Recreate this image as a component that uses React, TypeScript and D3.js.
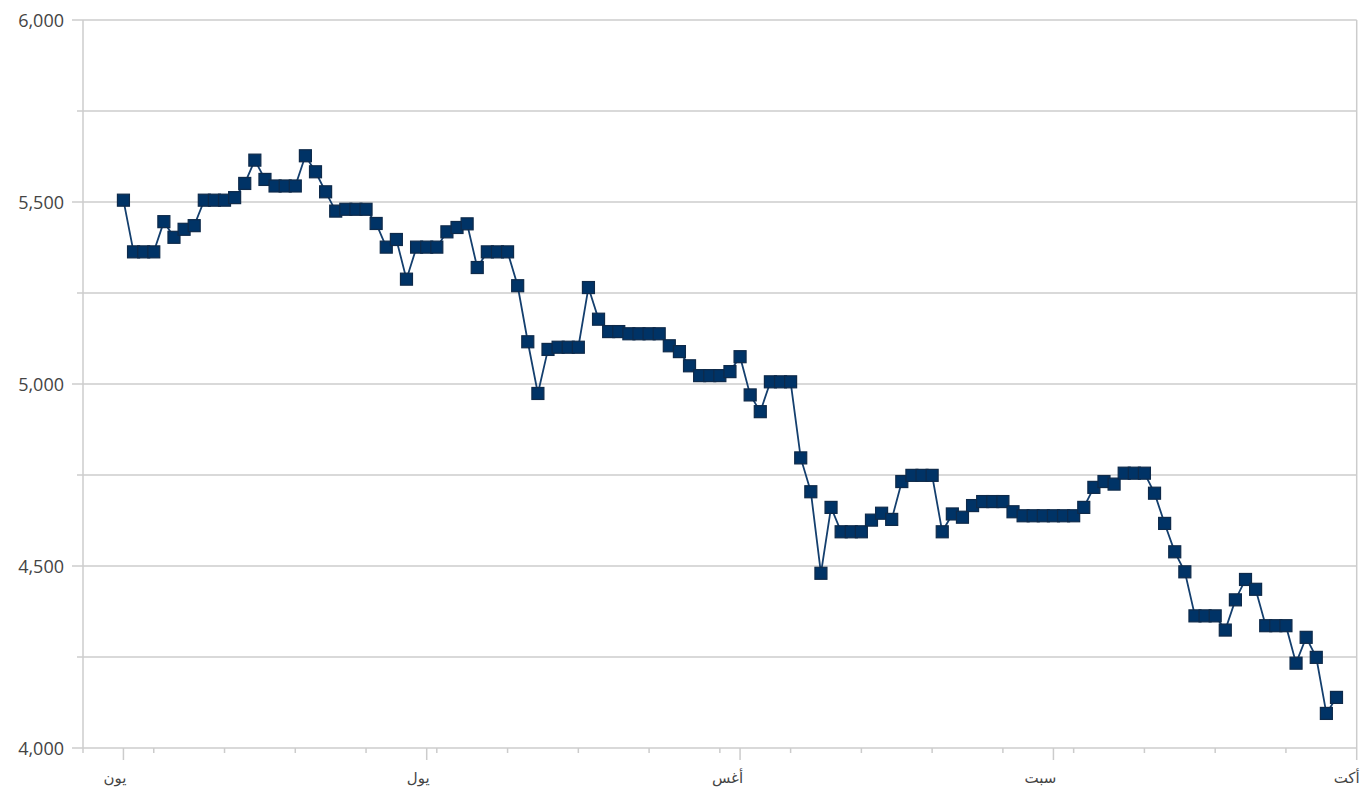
import React from "react";
import * as d3 from "d3";

const START_DATE = "2017-06-01";
const DOMAIN_START = "2017-05-28";
const DOMAIN_END = "2017-10-01";

const juneValues = [
  5505, 5363, 5363, 5363, 5446, 5403, 5425, 5435, 5505, 5505,
  5505, 5512, 5551, 5615, 5562, 5544, 5544, 5544, 5627, 5583,
  5528, 5475, 5480, 5480, 5480, 5441, 5376, 5397, 5288, 5376,
];
const julyValues = [
  5376, 5376, 5418, 5430, 5440, 5320, 5363, 5363, 5363, 5270,
  5116, 4974, 5095, 5101, 5101, 5101, 5265, 5178, 5144, 5144,
  5138, 5138, 5138, 5138, 5105, 5089, 5050, 5023, 5023, 5023,
  5034,
];
const augustValues = [
  5075, 4970, 4924, 5006, 5006, 5006, 4797, 4704, 4480, 4661,
  4594, 4594, 4594, 4626, 4645, 4628, 4732, 4749, 4749, 4749,
  4594, 4643, 4634, 4666, 4677, 4677, 4677, 4649, 4638, 4638,
  4638,
];
const septemberValues = [
  4638, 4638, 4638, 4661, 4716, 4732, 4725, 4755, 4755, 4755,
  4700, 4617, 4539, 4484, 4363, 4363, 4363, 4324, 4407, 4463,
  4436, 4336, 4336, 4336, 4233, 4304, 4249, 4095, 4139,
];

const monthLabels = ["يون", "يول", "أغس", "سبت", "أكت"];
const yMajorTicks = [4000, 4500, 5000, 5500, 6000];
const yMinorTicks = [4250, 4750, 5250, 5750];
const Y_MIN = 4000;
const Y_MAX = 6000;

const W = 1365;
const H = 791;
const LEFT = 83;
const RIGHT = 1356.7;
const TOP = 20;
const BOTTOM = 748;

const GRID = "#cccccc";
const TEXT = "#444444";
const LINE = "#143f6e";
const MARK_FILL = "#003366";
const MARK_STROKE = "#0e2a4a";

export default function App() {
  const start = new Date(START_DATE + "T00:00:00Z");
  const allValues = [...juneValues, ...julyValues, ...augustValues, ...septemberValues];
  const data = allValues.map((v, i) => ({ date: d3.utcDay.offset(start, i), value: v }));

  const x = d3
    .scaleUtc()
    .domain([new Date(DOMAIN_START + "T00:00:00Z"), new Date(DOMAIN_END + "T00:00:00Z")])
    .range([LEFT, RIGHT]);
  const y = d3.scaleLinear().domain([Y_MIN, Y_MAX]).range([BOTTOM, TOP]);

  const monthTicks = d3.utcMonth.range(start, d3.utcDay.offset(x.domain()[1], 1));
  const weekTicks = d3.utcSunday.range(start, x.domain()[1]);

  const line = d3
    .line<{ date: Date; value: number }>()
    .x((d) => x(d.date))
    .y((d) => y(d.value));

  const fmt = d3.format(",");
  const ms = 12;
  const font = "'Open Sans', 'DejaVu Sans', sans-serif";

  return (
    <svg
      width={W}
      height={H}
      style={{ position: "absolute", left: 0, top: 0, display: "block", background: "#fff" }}
    >
      {/* horizontal gridlines */}
      {[...yMajorTicks, ...yMinorTicks].map((t) => (
        <line key={"g" + t} x1={LEFT} x2={RIGHT} y1={y(t)} y2={y(t)} stroke={GRID} strokeWidth={1.5} />
      ))}
      {/* y ticks */}
      {yMajorTicks.map((t) => (
        <line key={"ymt" + t} x1={LEFT - 11} x2={LEFT} y1={y(t)} y2={y(t)} stroke={GRID} strokeWidth={1.5} />
      ))}
      {yMinorTicks.map((t) => (
        <line key={"ymn" + t} x1={LEFT - 6} x2={LEFT} y1={y(t)} y2={y(t)} stroke={GRID} strokeWidth={1.5} />
      ))}
      {/* axis borders */}
      <line x1={LEFT} x2={LEFT} y1={TOP} y2={BOTTOM + 5} stroke={GRID} strokeWidth={1.5} />
      <line x1={RIGHT} x2={RIGHT} y1={TOP} y2={BOTTOM} stroke={GRID} strokeWidth={1.5} />
      {/* x ticks */}
      {weekTicks.map((d) => (
        <line key={"w" + d.getTime()} x1={x(d)} x2={x(d)} y1={BOTTOM} y2={BOTTOM + 5} stroke={GRID} strokeWidth={1.5} />
      ))}
      {monthTicks.map((d) => (
        <line key={"m" + d.getTime()} x1={x(d)} x2={x(d)} y1={BOTTOM} y2={BOTTOM + 12} stroke={GRID} strokeWidth={1.5} />
      ))}
      {/* y labels */}
      {yMajorTicks.map((t) => (
        <text
          key={"yl" + t}
          x={64}
          y={y(t) + 7}
          textAnchor="end"
          fontFamily={font}
          fontSize={18}
          fill={TEXT}
        >
          {fmt(t)}
        </text>
      ))}
      {/* x labels */}
      {monthTicks.map((d, i) => (
        <text
          key={"xl" + d.getTime()}
          x={x(d) + 3}
          y={783}
          textAnchor="end"
          fontFamily={font}
          fontSize={15}
          fill={TEXT}
        >
          {monthLabels[i]}
        </text>
      ))}
      {/* series */}
      <path d={line(data) || ""} fill="none" stroke={LINE} strokeWidth={1.8} />
      {data.map((d, i) => (
        <rect
          key={"p" + i}
          x={x(d.date) - ms / 2}
          y={y(d.value) - ms / 2}
          width={ms}
          height={ms}
          fill={MARK_FILL}
          stroke={MARK_STROKE}
          strokeWidth={1.2}
        />
      ))}
    </svg>
  );
}
